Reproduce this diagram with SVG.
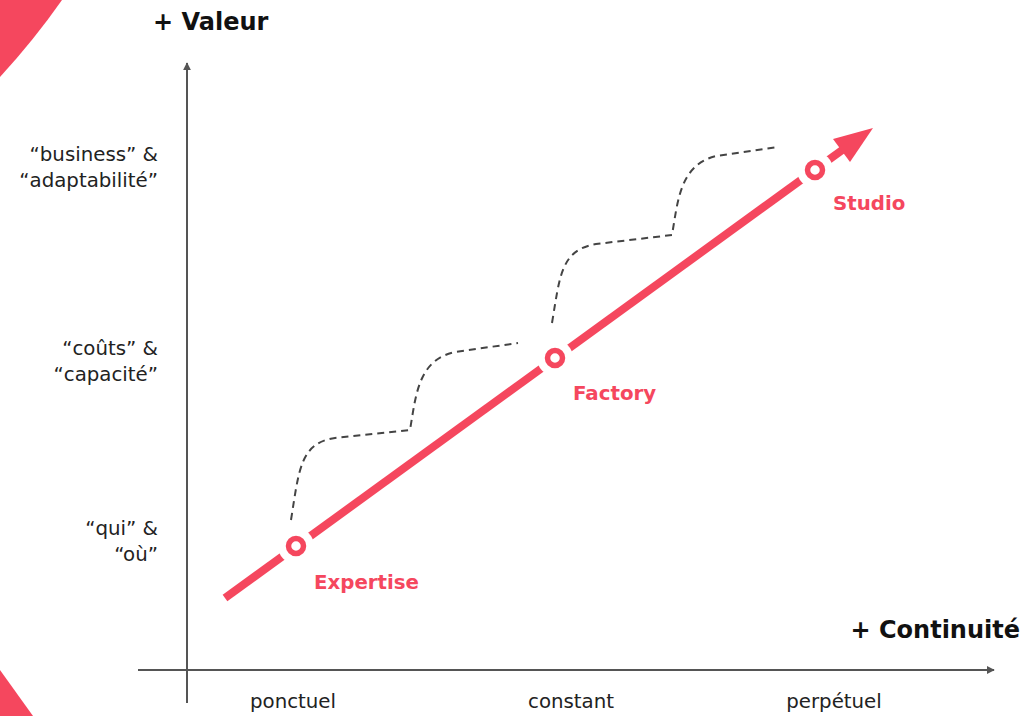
<svg xmlns="http://www.w3.org/2000/svg" width="1025" height="716" viewBox="0 0 1025 716">
<style>
.lbl{font-family:"DejaVu Sans","Noto Sans",sans-serif;font-size:19.8px;fill:#222;}
.ttl{font-family:"DejaVu Sans","Noto Sans",sans-serif;font-size:24px;font-weight:bold;fill:#111;}
.node{font-family:"DejaVu Sans","Noto Sans",sans-serif;font-size:19.8px;font-weight:bold;fill:#F5475E;}
.axis{stroke:#555;stroke-width:2;fill:none;}
.dash{stroke:#444;stroke-width:2;fill:none;stroke-dasharray:7 5;}
.ring{fill:#fff;stroke:#F5475E;stroke-width:5.5;}
</style>
<defs>
<marker id="ah" viewBox="0 0 10 10" refX="9" refY="5" markerWidth="8" markerHeight="8" markerUnits="userSpaceOnUse" orient="auto">
<path d="M0,0 L10,5 L0,10 Z" fill="#555"/>
</marker>
</defs>
<rect width="1025" height="716" fill="#fff"/>
<path d="M0,0 L62,0 Q34,40 0,77 Z" fill="#F5475E"/>
<path d="M0,670 L33,716 L0,716 Z" fill="#F5475E"/>
<g id="axes">
<line class="axis" x1="187" y1="703" x2="187" y2="63" marker-end="url(#ah)"/>
<line class="axis" x1="138" y1="670" x2="994" y2="670" marker-end="url(#ah)"/>
<text class="ttl" x="153" y="30">+ Valeur</text>
<text class="ttl" x="1020" y="638" text-anchor="end">+ Continuité</text>
</g>
<g id="y-labels" text-anchor="end">
<text class="lbl" x="158" y="161">“business” &amp;</text>
<text class="lbl" x="158" y="187">“adaptabilité”</text>
<text class="lbl" x="158" y="355">“coûts” &amp;</text>
<text class="lbl" x="158" y="381">“capacité”</text>
<text class="lbl" x="158" y="535">“qui” &amp;</text>
<text class="lbl" x="158" y="561">“où”</text>
</g>
<g id="x-labels" text-anchor="middle">
<text class="lbl" x="293" y="708">ponctuel</text>
<text class="lbl" x="571" y="708">constant</text>
<text class="lbl" x="834" y="708">perpétuel</text>
</g>
<g id="connectors">
<path class="dash" d="M291,520 C299,470 300,443 335,438 L410,430 C416,395 418,360 455,352 L518,343"/>
<path class="dash" d="M552,323 C560,275 561,250 596,244 L672,235 C678,200 680,165 716,156 L778,147"/>
<line x1="225" y1="598" x2="845" y2="148" stroke="#F5475E" stroke-width="8"/>
<path d="M873,128 L833,139 L850,162 Z" fill="#F5475E"/>
</g>
<g id="expertise">
<circle cx="296" cy="546" r="18" fill="#fff"/>
<circle class="ring" cx="296" cy="546" r="7.5"/>
<text class="node" x="314" y="589">Expertise</text>
</g>
<g id="factory">
<circle cx="555" cy="358" r="18" fill="#fff"/>
<circle class="ring" cx="555" cy="358" r="7.5"/>
<text class="node" x="573" y="400">Factory</text>
</g>
<g id="studio">
<circle cx="815" cy="170" r="18" fill="#fff"/>
<circle class="ring" cx="815" cy="170" r="7.5"/>
<text class="node" x="833" y="210">Studio</text>
</g>
</svg>
